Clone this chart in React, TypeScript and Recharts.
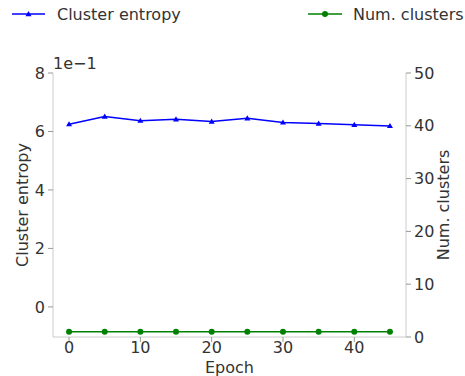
import React from 'react';
import { LineChart, Line, XAxis, YAxis } from 'recharts';

const epochs = [0, 5, 10, 15, 20, 25, 30, 35, 40, 45];
const clusterEntropy = [6.25, 6.51, 6.37, 6.42, 6.34, 6.45, 6.31, 6.27, 6.23, 6.19];
const numClusters = [1, 1, 1, 1, 1, 1, 1, 1, 1, 1];
const xTicks = [0, 10, 20, 30, 40];
const leftTicks = [0, 2, 4, 6, 8];
const rightTicks = [0, 10, 20, 30, 40, 50];

const FONT = '"DejaVu Sans", sans-serif';
const TEXT = '#333333';
const AXIS = '#cccccc';
const TICK = '#999999';
const BLUE = '#0000ff';
const GREEN = '#008000';
const FS = 16;

const data = epochs.map((e, i) => ({
  epoch: e,
  entropy: clusterEntropy[i],
  clusters: numClusters[i],
}));

const Triangle = (props: any) => {
  const { cx, cy } = props;
  if (cx == null || cy == null) return null;
  return <path d={`M${cx},${cy - 3} L${cx + 3},${cy + 2.2} L${cx - 3},${cy + 2.2} Z`} fill={BLUE} />;
};

const tickStyle = { fill: TEXT, fontSize: FS, fontFamily: FONT };

export default function App() {
  return (
    <div style={{ position: 'absolute', left: 0, top: 0, width: 465, height: 376, background: '#fff', fontFamily: FONT, color: TEXT }}>
      {/* legend */}
      <svg width={465} height={30} style={{ position: 'absolute', left: 0, top: 0 }}>
        <line x1={12} y1={14} x2={45} y2={14} stroke={BLUE} strokeWidth={1.5} />
        <Triangle cx={28.5} cy={14} />
        <text x={57} y={20} fontSize={FS} fill={TEXT} fontFamily={FONT}>Cluster entropy</text>
        <line x1={308} y1={14} x2={342} y2={14} stroke={GREEN} strokeWidth={1.5} />
        <circle cx={325} cy={14} r={3} fill={GREEN} />
        <text x={353} y={20} fontSize={FS} fill={TEXT} fontFamily={FONT}>Num. clusters</text>
      </svg>
      <div style={{ position: 'absolute', left: 53, top: 55, fontSize: FS, lineHeight: '18px' }}>1e−1</div>
      <LineChart width={465} height={376} data={data} margin={{ top: 73, right: 0, bottom: 0, left: 0 }}>
        <XAxis
          xAxisId="top"
          orientation="top"
          dataKey="epoch"
          type="number"
          domain={[-2.25, 47.25]}
          height={0}
          tick={false}
          tickLine={false}
          axisLine={{ stroke: AXIS }}
        />
        <XAxis
          dataKey="epoch"
          type="number"
          domain={[-2.25, 47.25]}
          ticks={xTicks}
          height={39}
          tick={tickStyle}
          tickSize={5}
          tickMargin={0}
          axisLine={{ stroke: AXIS }}
          tickLine={{ stroke: TICK }}
          label={{ value: 'Epoch', position: 'insideBottom', offset: 3, fill: TEXT, fontSize: FS, fontFamily: FONT }}
        />
        <YAxis
          yAxisId="left"
          domain={[-1.03, 8]}
          ticks={leftTicks}
          width={53}
          tick={tickStyle}
          tickSize={5}
          tickMargin={3}
          axisLine={{ stroke: AXIS }}
          tickLine={{ stroke: TICK }}
          label={{ value: 'Cluster entropy', angle: -90, position: 'insideLeft', offset: 22, fill: TEXT, fontSize: FS, fontFamily: FONT, style: { textAnchor: 'middle' } }}
        />
        <YAxis
          yAxisId="right"
          orientation="right"
          domain={[0, 50]}
          ticks={rightTicks}
          width={59}
          tick={tickStyle}
          tickSize={5}
          tickMargin={3}
          axisLine={{ stroke: AXIS }}
          tickLine={{ stroke: TICK }}
          label={{ value: 'Num. clusters', angle: -90, position: 'insideRight', offset: 22, fill: TEXT, fontSize: FS, fontFamily: FONT, style: { textAnchor: 'middle' } }}
        />
        <Line
          yAxisId="left"
          dataKey="entropy"
          stroke={BLUE}
          strokeWidth={1.5}
          dot={<Triangle />}
          activeDot={false}
          isAnimationActive={false}
        />
        <Line
          yAxisId="right"
          dataKey="clusters"
          stroke={GREEN}
          strokeWidth={1.5}
          dot={{ r: 3, fill: GREEN, stroke: 'none' }}
          activeDot={false}
          isAnimationActive={false}
        />
      </LineChart>
    </div>
  );
}
